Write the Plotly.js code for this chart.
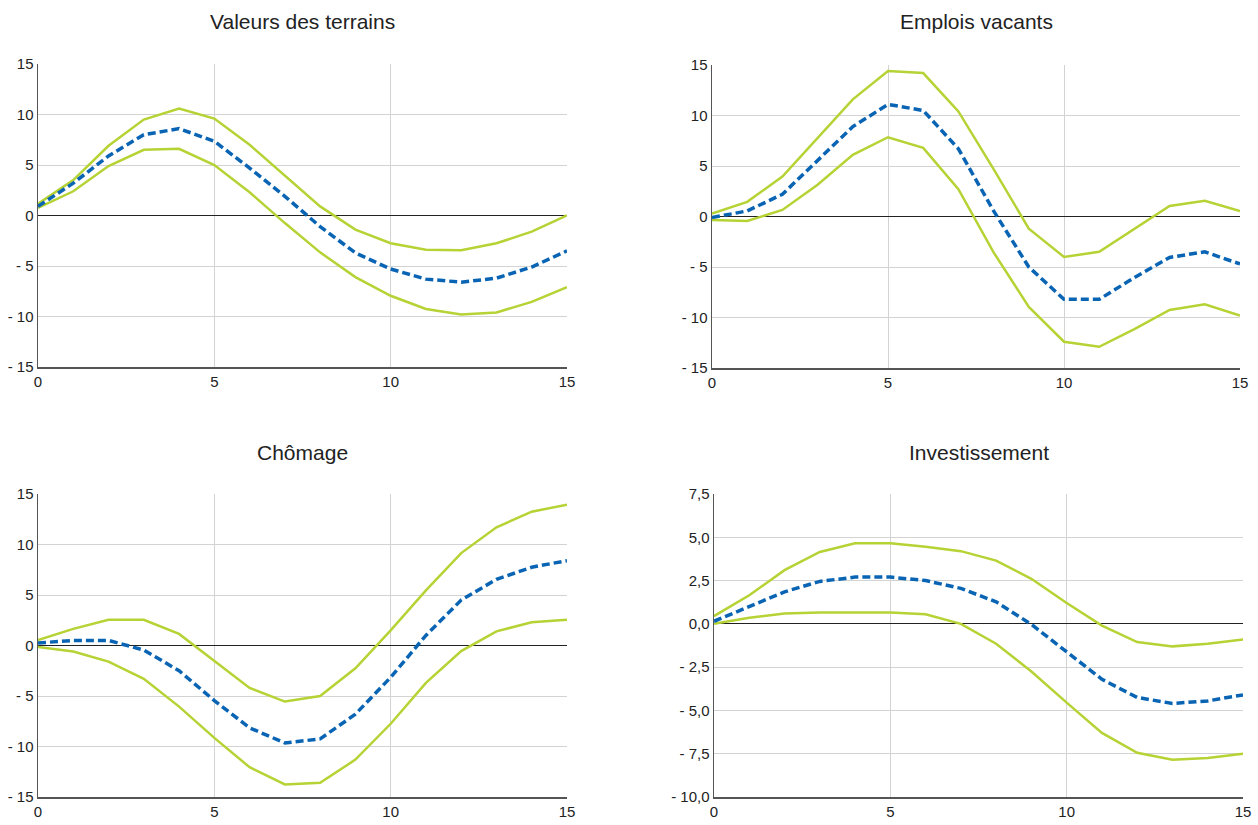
<!DOCTYPE html>
<html>
<head>
<meta charset="utf-8">
<script src="https://cdn.plot.ly/plotly-3.0.1.min.js"></script>
<style>html,body{margin:0;padding:0;background:#fff;}#chart{width:1258px;height:825px;}</style>
</head>
<body>
<div id="chart"></div>
<script>
// ---- Data ----
const horizons = [0,1,2,3,4,5,6,7,8,9,10,11,12,13,14,15];

const titles = ["Valeurs des terrains", "Emplois vacants", "Chômage", "Investissement"];

// Valeurs des terrains
const terrainsUpper = [1.15, 3.5, 6.9, 9.5, 10.6, 9.6, 7.0, 3.9, 0.9, -1.4, -2.75, -3.4, -3.45, -2.75, -1.6, 0.0];
const terrainsMid   = [0.9, 3.2, 5.9, 8.0, 8.6, 7.35, 4.7, 1.9, -1.1, -3.7, -5.3, -6.3, -6.6, -6.2, -5.1, -3.5];
const terrainsLower = [0.75, 2.4, 4.9, 6.5, 6.6, 5.0, 2.3, -0.75, -3.65, -6.1, -7.95, -9.25, -9.8, -9.6, -8.55, -7.1];

// Emplois vacants
const emploisUpper = [0.3, 1.45, 3.95, 7.75, 11.6, 14.4, 14.2, 10.4, 4.7, -1.2, -4.0, -3.5, -1.25, 1.05, 1.55, 0.55];
const emploisMid   = [-0.1, 0.55, 2.2, 5.5, 8.9, 11.1, 10.5, 6.7, 0.55, -5.0, -8.2, -8.2, -6.05, -4.05, -3.5, -4.7];
const emploisLower = [-0.35, -0.45, 0.65, 3.15, 6.1, 7.85, 6.8, 2.7, -3.55, -8.95, -12.4, -12.9, -11.15, -9.25, -8.7, -9.8];

// Chômage
const chomageUpper = [0.55, 1.65, 2.55, 2.55, 1.15, -1.5, -4.2, -5.55, -5.0, -2.25, 1.5, 5.45, 9.15, 11.7, 13.25, 13.95];
const chomageMid   = [0.25, 0.5, 0.5, -0.45, -2.5, -5.45, -8.15, -9.65, -9.25, -6.8, -3.15, 1.0, 4.5, 6.55, 7.75, 8.4];
const chomageLower = [-0.15, -0.6, -1.6, -3.3, -6.05, -9.15, -12.05, -13.75, -13.6, -11.3, -7.75, -3.7, -0.55, 1.4, 2.3, 2.55];

// Investissement
const investUpper = [0.45, 1.65, 3.1, 4.15, 4.65, 4.65, 4.45, 4.2, 3.65, 2.6, 1.2, -0.1, -1.05, -1.3, -1.15, -0.9];
const investMid   = [0.15, 1.0, 1.85, 2.45, 2.7, 2.7, 2.5, 2.05, 1.27, -0.03, -1.6, -3.2, -4.25, -4.6, -4.45, -4.1];
const investLower = [0.0, 0.35, 0.6, 0.65, 0.65, 0.65, 0.55, 0.0, -1.15, -2.75, -4.55, -6.3, -7.45, -7.85, -7.75, -7.5];

// Axis ticks
const xTickVals = [0, 5, 10, 15];
const xTickText = ["0", "5", "10", "15"];
const xGridVals = [5, 10];
const yTickVals15 = [-15, -10, -5, 0, 5, 10, 15];
const yTickText15 = ["- 15", "- 10", "- 5", "0", "5", "10", "15"];
const yGridVals15 = [-10, -5, 5, 10];
const yTickValsInv = [-10, -7.5, -5, -2.5, 0, 2.5, 5, 7.5];
const yTickTextInv = ["- 10,0", "- 7,5", "- 5,0", "- 2,5", "0,0", "2,5", "5,0", "7,5"];
const yGridValsInv = [-7.5, -5, -2.5, 2.5, 5];

// ---- Styling ----
const GREEN = "#b5d334";
const BLUE = "#0a64b4";
const FONT = "'Liberation Sans Narrow', 'Arial Narrow', 'Liberation Sans', sans-serif";
const W = 1258, H = 825;

const panels = [
  {up: terrainsUpper, mid: terrainsMid, lo: terrainsLower, yv: yTickVals15, yt: yTickText15, yg: yGridVals15, yr: [-15, 15],
   px: [38, 567], py: [64, 367]},
  {up: emploisUpper, mid: emploisMid, lo: emploisLower, yv: yTickVals15, yt: yTickText15, yg: yGridVals15, yr: [-15, 15],
   px: [712, 1240], py: [65, 368]},
  {up: chomageUpper, mid: chomageMid, lo: chomageLower, yv: yTickVals15, yt: yTickText15, yg: yGridVals15, yr: [-15, 15],
   px: [38, 567], py: [494, 797]},
  {up: investUpper, mid: investMid, lo: investLower, yv: yTickValsInv, yt: yTickTextInv, yg: yGridValsInv, yr: [-10, 7.5],
   px: [714, 1243], py: [494, 797]}
];
const titleY = [22, 22, 452, 452];

const traces = [];
const layout = {
  width: W, height: H,
  margin: {l: 0, r: 0, t: 0, b: 0},
  paper_bgcolor: "#ffffff", plot_bgcolor: "#ffffff",
  showlegend: false,
  font: {family: FONT, size: 14, color: "#222"},
  annotations: []
};

panels.forEach((p, i) => {
  const n = i === 0 ? "" : String(i + 1);
  const xa = "x" + n, ya = "y" + n;
  const common = {x: horizons, xaxis: xa, yaxis: ya, mode: "lines", hoverinfo: "skip"};
  traces.push(Object.assign({}, common, {y: p.up, line: {color: GREEN, width: 2.5}}));
  traces.push(Object.assign({}, common, {y: p.lo, line: {color: GREEN, width: 2.5}}));
  traces.push(Object.assign({}, common, {y: p.mid, line: {color: BLUE, width: 3.5, dash: "8px,4px"}}));

  layout["xaxis" + n] = {
    domain: [p.px[0] / W, p.px[1] / W],
    anchor: ya,
    range: [0, 15],
    tickmode: "array", tickvals: xTickVals, ticktext: xTickText,
    showgrid: false,
    minor: {tickmode: "array", tickvals: xGridVals, showgrid: true, gridcolor: "#d3d3d3", gridwidth: 1, ticks: ""},
    showline: true, linecolor: "#555", linewidth: 1.5,
    zeroline: false, ticks: "", ticklen: 0,
    tickfont: {family: FONT, size: 15, color: "#222"},
    fixedrange: true
  };
  layout["yaxis" + n] = {
    domain: [1 - p.py[1] / H, 1 - p.py[0] / H],
    anchor: xa,
    range: p.yr,
    tickmode: "array", tickvals: p.yv, ticktext: p.yt,
    showgrid: false,
    minor: {tickmode: "array", tickvals: p.yg, showgrid: true, gridcolor: "#d3d3d3", gridwidth: 1, ticks: ""},
    showline: true, linecolor: "#555", linewidth: 1.5,
    zeroline: true, zerolinecolor: "#222", zerolinewidth: 1,
    ticks: "", ticklen: 0,
    tickfont: {family: FONT, size: 15, color: "#222"},
    fixedrange: true
  };
  layout.annotations.push({
    text: titles[i],
    xref: "paper", yref: "paper",
    x: (p.px[0] + p.px[1]) / 2 / W, y: 1 - titleY[i] / H,
    xanchor: "center", yanchor: "middle",
    showarrow: false,
    font: {family: FONT, size: 21, color: "#222"}
  });
});

Plotly.newPlot("chart", traces, layout, {displayModeBar: false, staticPlot: true});
</script>
</body>
</html>
